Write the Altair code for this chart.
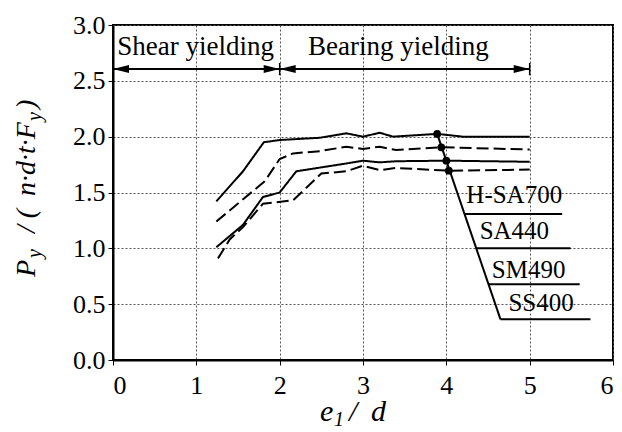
import altair as alt
import pandas as pd

SERIF = "Liberation Serif"

# Yield load ratio P_y/(n*d*t*F_y) against end distance ratio e1/d
grades = ["H-SA700", "SA440", "SM490", "SS400"]
line_styles = ["solid", "dashed", "solid", "dashed"]

hsa700_x = [1.24, 1.56, 1.81, 2.0, 2.48, 2.8, 3.0, 3.2, 3.36, 3.89, 4.2, 5.0]
hsa700_y = [1.42, 1.69, 1.95, 1.97, 1.99, 2.03, 2.0, 2.035, 2.0, 2.025, 2.0, 2.0]

sa440_x = [1.24, 1.82, 2.0, 2.16, 2.48, 2.8, 3.0, 3.2, 3.4, 3.94, 5.0]
sa440_y = [1.24, 1.60, 1.80, 1.85, 1.87, 1.91, 1.89, 1.91, 1.88, 1.905, 1.885]

sm490_x = [1.24, 1.56, 1.80, 2.0, 2.2, 2.8, 3.0, 3.2, 3.4, 4.0, 5.0]
sm490_y = [1.01, 1.21, 1.46, 1.50, 1.69, 1.76, 1.785, 1.77, 1.78, 1.785, 1.775]

ss400_x = [1.26, 1.4, 1.56, 1.80, 2.16, 2.5, 2.8, 3.0, 3.2, 3.4, 4.03, 5.0]
ss400_y = [0.91, 1.08, 1.19, 1.40, 1.43, 1.67, 1.69, 1.74, 1.70, 1.72, 1.695, 1.705]

# Marked points where the leader line meets each curve
marker_x = [3.89, 3.94, 4.0, 4.03]
marker_y = [2.025, 1.905, 1.785, 1.695]

# Leader line and the underline under each grade name
leader_x = [3.89, 4.65]
leader_y = [2.025, 0.364]
underline_x0 = [4.22, 4.36, 4.51, 4.65]
underline_x1 = [5.39, 5.49, 5.60, 5.73]
underline_y = [1.307, 1.0, 0.678, 0.364]
label_x = [4.24, 4.40, 4.545, 4.745]
label_y = [1.405, 1.08, 0.73, 0.44]

# Failure-mode ranges drawn along the top
region_names = ["Shear yielding", "Bearing yielding"]
region_start = [0.0, 2.0]
region_end = [2.0, 5.0]
region_text_x = [0.05, 2.34]
region_text_y = 2.73
arrow_y = 2.605

x_ticks = [0, 1, 2, 3, 4, 5, 6]
y_ticks = [0.0, 0.5, 1.0, 1.5, 2.0, 2.5, 3.0]

rows = []
for g, st, xs, ys in zip(grades, line_styles,
                         [hsa700_x, sa440_x, sm490_x, ss400_x],
                         [hsa700_y, sa440_y, sm490_y, ss400_y]):
    for xv, yv in zip(xs, ys):
        rows.append({"grade": g, "style": st, "e1d": xv, "ratio": yv})
curves = pd.DataFrame(rows)

xs = alt.Scale(domain=[0, 6], nice=False, zero=False)
ys = alt.Scale(domain=[0, 3], nice=False, zero=False)
X = alt.X("e1d:Q", scale=xs,
          axis=alt.Axis(values=x_ticks, format="d", title=None, labelPadding=7,
                        labelFont=SERIF))
Y = alt.Y("ratio:Q", scale=ys,
          axis=alt.Axis(values=y_ticks, format=".1f", title=None, labelPadding=3,
                        labelFont=SERIF))

lines = alt.Chart(curves).mark_line(color="black", strokeWidth=2).encode(
    x=X, y=Y, detail="grade:N",
    strokeDash=alt.StrokeDash("style:N", scale=alt.Scale(domain=["solid", "dashed"],
                                                         range=[[1, 0], [12, 5]]),
                              legend=None),
)

dots = alt.Chart(pd.DataFrame({"e1d": marker_x, "ratio": marker_y})).mark_circle(
    size=60, color="black", opacity=1).encode(x="e1d:Q", y="ratio:Q")

leader = alt.Chart(pd.DataFrame({"e1d": [leader_x[0]], "ratio": [leader_y[0]],
                                 "e1d2": [leader_x[1]], "ratio2": [leader_y[1]]})).mark_rule(
    color="black", strokeWidth=2).encode(x="e1d:Q", y="ratio:Q", x2="e1d2:Q", y2="ratio2:Q")

label_df = pd.DataFrame({"grade": grades, "x0": underline_x0, "x1": underline_x1,
                         "uy": underline_y, "tx": label_x, "ty": label_y})
underlines = alt.Chart(label_df).mark_rule(color="black", strokeWidth=2).encode(
    x="x0:Q", x2="x1:Q", y="uy:Q")
grade_text = alt.Chart(label_df).mark_text(
    align="left", baseline="alphabetic", font=SERIF, fontSize=25, color="black").encode(
    x="tx:Q", y="ty:Q", text="grade:N")

region_df = pd.DataFrame({"name": region_names, "x0": region_start, "x1": region_end,
                          "tx": region_text_x, "ty": [region_text_y] * 2,
                          "ay": [arrow_y] * 2})
arrow_line = alt.Chart(region_df).mark_rule(color="black", strokeWidth=2).encode(
    x="x0:Q", x2="x1:Q", y="ay:Q")
arrow_stops = alt.Chart(region_df).mark_rule(color="black", strokeWidth=1.5).encode(
    x="x1:Q", y=alt.datum(arrow_y - 0.055), y2=alt.datum(arrow_y + 0.055))
head_right = alt.Chart(region_df).mark_point(
    shape="M0,0L-2,-0.5L-2,0.5Z", filled=True, size=256, color="black", opacity=1,
    strokeWidth=0).encode(x="x1:Q", y="ay:Q")
head_left = alt.Chart(region_df).mark_point(
    shape="M0,0L2,-0.5L2,0.5Z", filled=True, size=256, color="black", opacity=1,
    strokeWidth=0).encode(x="x0:Q", y="ay:Q")
region_text = alt.Chart(region_df).mark_text(
    align="left", baseline="alphabetic", font=SERIF, fontSize=27, color="black").encode(
    x="tx:Q", y="ty:Q", text="name:N")


def piece(text, px, py, size, angle=0, italic=True):
    """A fragment of an axis title placed in view pixels."""
    kw = dict(text=text, font=SERIF, fontSize=size, color="black",
              align="left", baseline="alphabetic")
    if italic:
        kw["fontStyle"] = "italic"
    if angle:
        kw["angle"] = angle
    return alt.Chart(alt.Data(values=[{"k": 0}])).mark_text(**kw).encode(
        x=alt.value(px), y=alt.value(py))


# x-axis title: e_1 / d
x_title = [
    piece("e", 207, 396, 30),
    piece("1", 221, 401, 20),
    piece("/", 236, 396, 30),
    piece("d", 258, 396, 30),
]

# y-axis title: P_y / (n·d·t·F_y), reading bottom to top
y_title = [
    piece("P", -78, 252, 28, angle=270),
    piece("y", -72, 233, 20, angle=270),
    piece("/ (", -78, 208, 28, angle=270),
    piece("n·d·t·F", -78, 171, 28, angle=270),
    piece("y", -72, 96, 20, angle=270),
    piece(")", -78, 84, 28, angle=270),
]

chart = alt.layer(
    lines, leader, dots, underlines, grade_text,
    arrow_line, arrow_stops, head_right, head_left, region_text,
    *x_title, *y_title,
).properties(
    width=500, height=335,
    autosize=alt.AutoSizeParams(type="none"),
    padding={"left": 113, "top": 25, "right": 9, "bottom": 72},
    background="white",
).configure(
    font=SERIF,
).configure_view(
    stroke="black", strokeWidth=2,
).configure_axis(
    domainColor="black", domainWidth=2,
    tickColor="black", tickSize=5, tickWidth=1,
    labelFont=SERIF, labelFontSize=26, labelColor="black",
    grid=True, gridColor="#555555", gridDash=[2, 2], gridWidth=1,
).configure_text(
    font=SERIF,
)

chart.save("out.html", embed_options={"renderer": "svg", "actions": False})
